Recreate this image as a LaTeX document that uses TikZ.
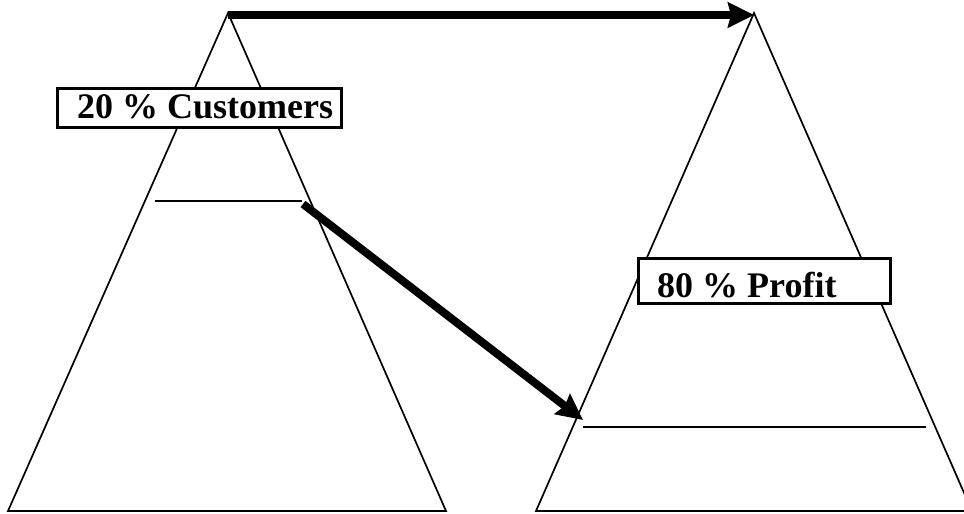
\documentclass[tikz,border=0pt]{standalone}
\usepackage{fontspec}
\setmainfont{Liberation Serif}
\usetikzlibrary{arrows.meta}

\tikzset{
  pyramid/.style={draw=black, line width=1.7pt, line join=miter},
  level/.style={draw=black, line width=1.8pt},
  bigarrow/.style={draw=black, line width=8pt, -{Stealth[length=26pt, width=25pt, inset=3pt]}},
  labelbox/.style={draw=black, fill=white, line width=3pt, inner sep=0pt},
  labeltext/.style={inner sep=0pt, font=\fontsize{36}{40}\selectfont\bfseries}
}

\begin{document}
\begin{tikzpicture}[x=1pt, y=-1pt]
  \useasboundingbox (0,0) rectangle (964,514);
  \clip (0,0) rectangle (964,514);

  % corner points of the two pyramids
  \coordinate (lapex) at (228,13);
  \coordinate (lbl) at (8,511);
  \coordinate (lbr) at (446,511);
  \coordinate (rapex) at (754,13);
  \coordinate (rbl) at (536,511);
  \coordinate (rbr) at (972,511);

  % the pyramids
  \draw[pyramid] (lbl) -- (lapex) -- (lbr) -- cycle;
  \draw[pyramid] (rbl) -- (rapex) -- (rbr) -- cycle;

  % level lines inside each pyramid
  \coordinate (lcutA) at (155,201);
  \coordinate (lcutB) at (302,201);
  \coordinate (rcutA) at (583,427);
  \coordinate (rcutB) at (926,427);
  \draw[level] (lcutA) -- (lcutB);
  \draw[level] (rcutA) -- (rcutB);

  % label boxes
  \node[labelbox, minimum width=284pt, minimum height=39pt] (custbox) at (199,107.5) {};
  \node[labeltext, anchor=base west] (custtext) at (77,118) {20 \% Customers};
  \node[labelbox, minimum width=252pt, minimum height=45pt] (profbox) at (764,280.5) {};
  \node[labeltext, anchor=base west] (proftext) at (657,297) {80 \% Profit};

  % arrows
  \coordinate (topstart) at (228,15);
  \coordinate (topend) at (754,15);
  \coordinate (diagstart) at (303,204);
  \coordinate (diagend) at (583,420);
  \draw[bigarrow] (topstart) -- (topend);
  \draw[bigarrow] (diagstart) -- (diagend);
\end{tikzpicture}
\end{document}
